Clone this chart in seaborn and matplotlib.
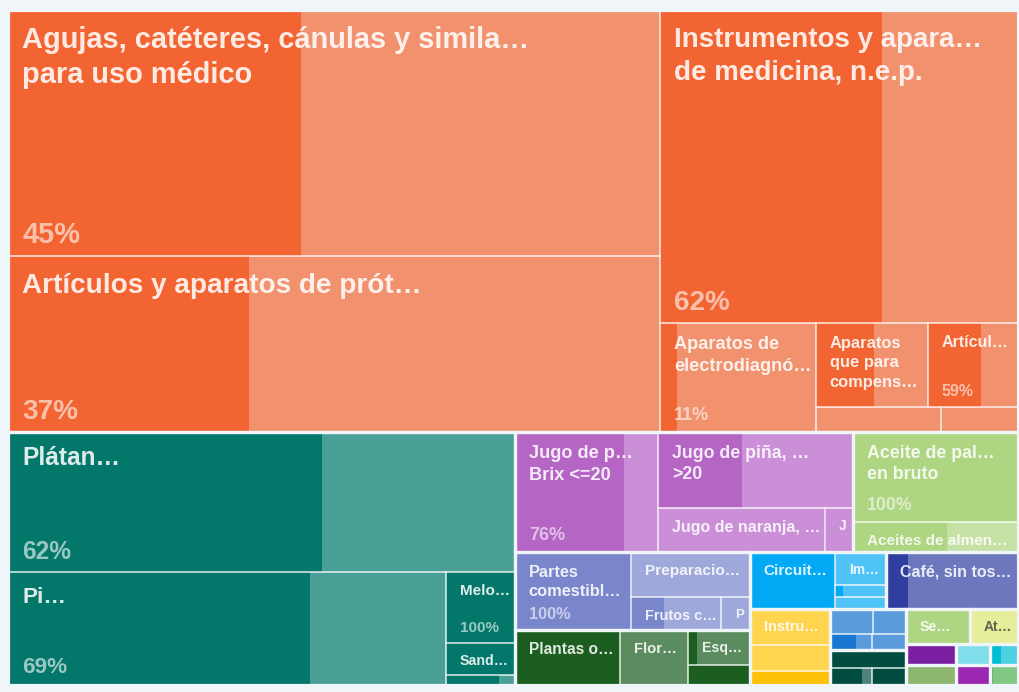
import numpy as np
import seaborn as sns
import matplotlib
matplotlib.use("Agg")
import matplotlib.pyplot as plt
from matplotlib.patches import Rectangle
from matplotlib import transforms

sns.set_theme(style="white")
plt.rcParams["font.family"] = ["Liberation Sans", "DejaVu Sans"]

BG = "#F0F5FA"

# ---- product data -------------------------------------------------------
labels = [
    "Agujas, catéteres, cánulas y simila…\npara uso médico",
    "Artículos y aparatos de prót…",
    "Instrumentos y apara…\nde medicina, n.e.p.",
    "Aparatos de\nelectrodiagnó…",
    "Aparatos\nque para\ncompens…",
    "Artícul…",
    "", "",
    "Plátan…",
    "Pi…",
    "Melo…",
    "Sand…",
    "",
    "Jugo de p…\nBrix <=20",
    "Jugo de piña, …\n>20",
    "Jugo de naranja, …",
    "J",
    "Aceite de pal…\nen bruto",
    "Aceites de almen…",
    "Partes\ncomestibl…",
    "Preparacio…",
    "Frutos c…",
    "P",
    "Plantas o…",
    "Flor…",
    "Esq…",
    "",
    "Circuit…",
    "Im…",
    "", "",
    "Café, sin tos…",
    "Instru…",
    "", "",
    "", "", "", "",
    "", "", "",
    "Se…",
    "At…",
    "", "", "", "", "", "",
]

group_of = [
    0, 0, 0, 0, 0, 0, 0, 0,
    1, 1, 1, 1, 1,
    2, 2, 2, 2,
    3, 3,
    4, 4, 4, 4,
    5, 5, 5, 5,
    6, 6, 6, 6,
    7,
    8, 8, 8,
    9, 9, 9, 9,
    10, 10, 10,
    11,
    12,
    13,
    14,
    15,
    16,
    17,
    18,
]

values = [
    160.39, 114.75, 112.05, 17.00, 9.41, 7.56, 3.13, 1.93,
    70.98, 49.49, 4.90, 2.21, 0.69,
    17.16, 14.82, 7.35, 1.23,
    14.85, 4.95,
    9.05, 5.36, 2.97, 0.96,
    5.78, 3.74, 2.17, 1.24,
    4.85, 1.68, 0.61, 0.61,
    7.52,
    2.88, 2.08, 1.12,
    1.08, 0.83, 0.67, 0.54,
    1.37, 0.71, 0.58,
    2.24,
    1.68,
    1.05,
    1.00,
    0.71,
    0.68,
    0.59,
    0.56,
]

shares = [
    0.45, 0.37, 0.62, 0.11, 0.52, 0.59, 0.0, 0.0,
    0.62, 0.69, 1.00, 1.00, 0.77,
    0.76, 0.43, 0.0, 0.05,
    1.00, 0.57,
    1.00, 0.0, 0.37, 0.0,
    1.00, 0.0, 0.15, 1.00,
    1.00, 0.0, 0.16, 0.0,
    0.17,
    0.0, 0.0, 1.00,
    0.0, 0.0, 0.62, 0.0,
    1.00, 0.76, 1.00,
    0.0,
    0.0,
    1.00,
    0.0,
    0.0,
    1.00,
    0.40,
    0.12,
]

show_share = [
    True, True, True, True, False, True, False, False,
    True, True, True, False, False,
    True, False, False, False,
    True, False,
    True, False, False, False,
    False, False, False, False,
    False, False, False, False,
    False,
    False, False, False,
    False, False, False, False,
    False, False, False,
    False, False, False, False, False, False, False, False,
]

# (dark, light) colour pair for each sector group
group_dark = ["#F26532", "#02776A", "#B565C4", "#AED581", "#7986CB",
              "#1B5E20", "#03A9F4", "#303F9F", "#FFC107", "#1976D2",
              "#004D40", "#7CB342", "#CDDC39", "#7B1FA2", "#558B2F",
              "#26C6DA", "#9C27B0", "#00BCD4", "#4CAF50"]
group_light = ["#F2916E", "#4AA096", "#CA8FD6", "#C5E1A5", "#9FA8DA",
               "#5B8C5F", "#4FC3F7", "#6C77BE", "#FFD54F", "#5A9BDC",
               "#4F8279", "#AED581", "#E6EE9C", "#A569BD", "#8DB66E",
               "#80DEEA", "#BA68C8", "#4DD0E1", "#81C784"]

# ---- nested split structure: "row" = side by side, "col" = stacked ------
LAYOUT = ("col", [
    ("row", [
        ("col", [0, 1]),
        ("col", [2, ("row", [3, ("col", [("row", [4, 5]), ("row", [6, 7])])])]),
    ]),
    ("row", [
        ("col", [8, ("row", [9, ("col", [10, 11, 12])])]),
        ("col", [
            ("row", [
                ("row", [13, ("col", [14, ("row", [15, 16])])]),
                ("col", [17, 18]),
            ]),
            ("row", [
                ("col", [
                    ("row", [19, ("col", [20, ("row", [21, 22])])]),
                    ("row", [23, 24, ("col", [25, 26])]),
                ]),
                ("col", [
                    ("row", [("row", [27, ("col", [28, 29, 30])]), 31]),
                    ("row", [
                        ("col", [32, 33, 34]),
                        ("col", [("col", [("row", [35, 36]), ("row", [37, 38])]),
                                 ("col", [39, ("row", [40, 41])])]),
                        ("col", [
                            ("row", [42, 43]),
                            ("row", [("col", [44, 45]), ("col", [46, 47]), ("col", [48, 49])]),
                        ]),
                    ]),
                ]),
            ]),
        ]),
    ]),
])


def total(node):
    if isinstance(node, int):
        return values[node]
    return sum(total(k) for k in node[1])


def place(node, x, y, w, h, out):
    if isinstance(node, int):
        out[node] = (x, y, w, h)
        return
    kind, kids = node
    sums = [total(k) for k in kids]
    s = sum(sums)
    pos = 0.0
    for k, t in zip(kids, sums):
        f = t / s
        if kind == "row":
            place(k, x + pos * w, y, f * w, h, out)
        else:
            place(k, x, y + pos * h, w, f * h, out)
        pos += f


rects = {}
place(LAYOUT, 0.0, 0.0, 1.0, 1.0, rects)

FIG_W, FIG_H = 1019, 692
fig = plt.figure(figsize=(FIG_W / 100, FIG_H / 100), dpi=100, facecolor=BG)
ax = fig.add_axes([8 / FIG_W, 7 / FIG_H, 1010 / FIG_W, 675 / FIG_H])
ax.set_xlim(0, 1)
ax.set_ylim(1, 0)
ax.set_axis_off()
ax.set_facecolor(BG)

AX_W, AX_H = 1010, 675
PX = 0.72  # points per pixel at 100 dpi


def font_px(w, h):
    """Label size grows with the square root of the tile area (pixels)."""
    return min(29.0, (8.6 + 0.034 * np.sqrt(w * AX_W * h * AX_H)) / PX)


def luminance(hexcol):
    r, g, b = matplotlib.colors.to_rgb(hexcol)
    return 0.299 * r + 0.587 * g + 0.114 * b


def offset(dx_px, dy_px):
    return transforms.offset_copy(ax.transData, fig=fig, x=dx_px * PX,
                                  y=dy_px * PX, units="points")


for i, (x, y, w, h) in rects.items():
    g = group_of[i]
    dark, light = group_dark[g], group_light[g]
    ax.add_patch(Rectangle((x, y), w, h, facecolor=light, edgecolor="none", zorder=1))
    if shares[i] > 0:
        ax.add_patch(Rectangle((x, y), w * shares[i], h, facecolor=dark,
                               edgecolor="none", zorder=2))
    cell = Rectangle((x, y), w, h, facecolor="none",
                     edgecolor=(1, 1, 1, 0.55), linewidth=1.1, zorder=3)
    ax.add_patch(cell)

    fpx = font_px(w, h)
    fs = fpx * PX
    txt_col = (0.25, 0.25, 0.25, 0.8) if (shares[i] < 0.3 and luminance(light) > 0.86) \
        else (1, 1, 1, 0.87)
    pct_col = (1, 1, 1, 0.6)
    left_pad = 13 + 0.05 * fpx
    if labels[i]:
        first = 7 + 1.07 * fpx
        for k, line in enumerate(labels[i].split("\n")):
            t = ax.text(x, y, line, transform=offset(left_pad, -(first + k * 1.2 * fpx)),
                        ha="left", va="baseline", fontsize=fs, fontweight="bold",
                        color=txt_col, zorder=5)
            t.set_clip_path(cell)
    if show_share[i]:
        t = ax.text(x, y + h, f"{round(shares[i] * 100)}%",
                    transform=offset(left_pad, 9 + 0.15 * fpx),
                    ha="left", va="baseline", fontsize=fs, fontweight="bold",
                    color=pct_col, zorder=5)
        t.set_clip_path(cell)

# sector outlines separate the groups with a gap of background colour
for g in range(len(group_dark)):
    members = [rects[i] for i in rects if group_of[i] == g]
    x0 = min(r[0] for r in members)
    y0 = min(r[1] for r in members)
    x1 = max(r[0] + r[2] for r in members)
    y1 = max(r[1] + r[3] for r in members)
    ax.add_patch(Rectangle((x0, y0), x1 - x0, y1 - y0, facecolor="none",
                           edgecolor=BG, linewidth=3.2 * PX, zorder=6))

fig.savefig("out.png", dpi=100, facecolor=BG)
